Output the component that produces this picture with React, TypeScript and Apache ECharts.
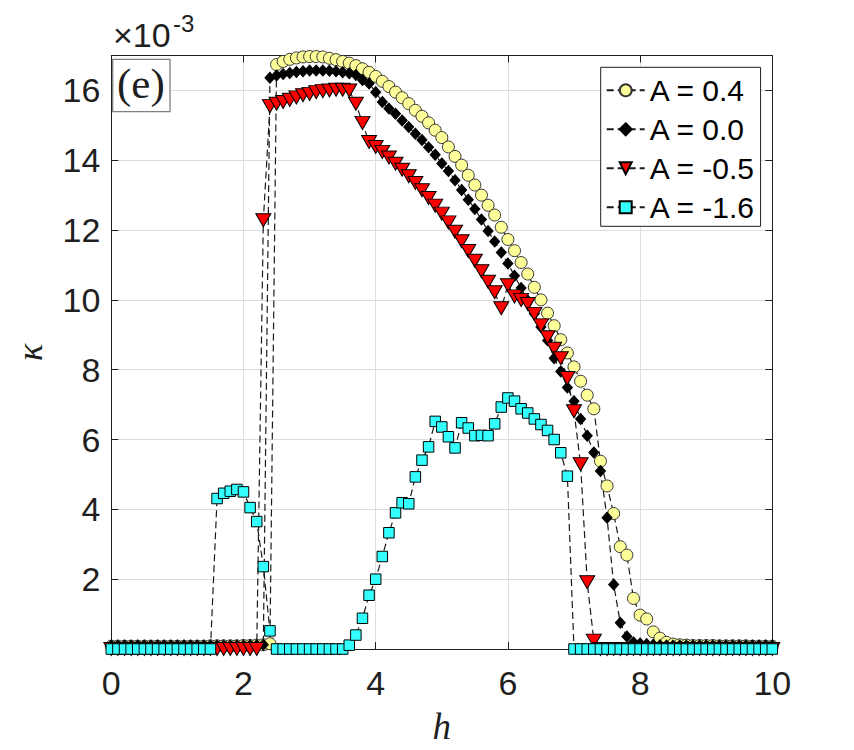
import React, { useEffect, useRef } from 'react';
import * as echarts from 'echarts';

// sampling grid of h (0 .. 10, step 0.1)
const H: number[] = Array.from({ length: 101 }, (_, i) => i / 10);

// kappa (x 10^-3) for A = 0.4
const A04: number[] = [
  0.08, 0.08, 0.08, 0.08, 0.08, 0.08, 0.08, 0.08, 0.08, 0.08,
  0.08, 0.08, 0.08, 0.08, 0.08, 0.09, 0.09, 0.09, 0.09, 0.09,
  0.10, 0.10, 0.11, 0.12, 0.15, 16.74, 16.83, 16.89, 16.93, 16.96,
  16.97, 16.97, 16.96, 16.92, 16.88, 16.83, 16.78, 16.71, 16.62, 16.52,
  16.40, 16.26, 16.11, 15.95, 15.79, 15.62, 15.43, 15.26, 15.07, 14.86,
  14.65, 14.38, 14.11, 13.86, 13.57, 13.29, 13.00, 12.71, 12.43, 12.08,
  11.73, 11.41, 11.07, 10.74, 10.36, 10.00, 9.62, 9.26, 8.86, 8.48,
  8.08, 7.67, 7.27, 6.88, 5.38, 4.67, 3.88, 2.93, 2.69, 1.45,
  0.97, 0.86, 0.49, 0.31, 0.19, 0.14, 0.12, 0.11, 0.10, 0.10,
  0.10, 0.10, 0.09, 0.09, 0.09, 0.09, 0.09, 0.08, 0.08, 0.08,
  0.08,
];

// kappa (x 10^-3) for A = 0.0
const A00: number[] = [
  0.10, 0.10, 0.10, 0.10, 0.10, 0.10, 0.10, 0.10, 0.10, 0.10,
  0.10, 0.10, 0.10, 0.10, 0.10, 0.10, 0.10, 0.10, 0.10, 0.10,
  0.10, 0.11, 0.11, 0.12, 16.36, 16.43, 16.47, 16.50, 16.53, 16.55,
  16.57, 16.57, 16.57, 16.56, 16.55, 16.52, 16.49, 16.44, 16.30, 16.20,
  15.95, 15.67, 15.48, 15.33, 15.14, 14.95, 14.76, 14.58, 14.37, 14.16,
  13.91, 13.69, 13.43, 13.15, 12.87, 12.60, 12.30, 11.97, 11.67, 11.36,
  11.04, 10.69, 10.34, 9.98, 9.60, 9.22, 8.84, 8.33, 7.95, 7.49,
  7.10, 6.59, 6.11, 5.63, 5.10, 3.76, 1.85, 0.75, 0.36, 0.19,
  0.16, 0.14, 0.12, 0.11, 0.10, 0.10, 0.10, 0.10, 0.10, 0.10,
  0.10, 0.10, 0.10, 0.10, 0.10, 0.10, 0.10, 0.10, 0.10, 0.10,
  0.10,
];

// kappa (x 10^-3) for A = -0.5
const AM05: number[] = [
  0, 0, 0, 0, 0, 0, 0, 0, 0, 0,
  0, 0, 0, 0, 0, 0, 0, 0, 0, 0,
  0, 0, 0, 12.28, 15.55, 15.62, 15.67, 15.73, 15.80, 15.86,
  15.90, 15.95, 15.98, 16.00, 16.02, 16.02, 16.00, 15.62, 15.07, 14.52,
  14.38, 14.24, 14.08, 13.90, 13.73, 13.54, 13.35, 13.14, 12.92, 12.70,
  12.47, 12.22, 11.95, 11.68, 11.40, 11.12, 10.82, 10.52, 10.22, 9.76,
  10.42, 10.10, 10.00, 9.88, 9.60, 9.27, 8.93, 8.60, 8.33, 7.76,
  6.81, 5.29, 1.91, 0.24, 0, 0, 0, 0, 0, 0,
  0, 0, 0, 0, 0, 0, 0, 0, 0, 0,
  0, 0, 0, 0, 0, 0, 0, 0, 0, 0,
  0,
];

// kappa (x 10^-3) for A = -1.6
const AM16: number[] = [
  0, 0, 0, 0, 0, 0, 0, 0, 0, 0,
  0, 0, 0, 0, 0, 0, 4.31, 4.46, 4.52, 4.57,
  4.50, 4.05, 3.65, 2.36, 0.52, 0, 0, 0, 0, 0,
  0, 0, 0, 0, 0, 0, 0.11, 0.40, 0.88, 1.54,
  2.00, 2.65, 3.33, 3.90, 4.19, 4.16, 4.93, 5.41, 5.79, 6.52,
  6.36, 6.08, 5.76, 6.48, 6.33, 6.11, 6.12, 6.11, 6.45, 6.93,
  7.19, 7.10, 6.88, 6.76, 6.59, 6.43, 6.26, 6.00, 5.62, 4.95,
  0, 0, 0, 0, 0, 0, 0, 0, 0, 0,
  0, 0, 0, 0, 0, 0, 0, 0, 0, 0,
  0, 0, 0, 0, 0, 0, 0, 0, 0, 0,
  0,
];

const SERIES_NAMES: string[] = ['A = 0.4', 'A = 0.0', 'A = -0.5', 'A = -1.6'];
const X_MIN = 0;
const X_MAX = 10;
const X_STEP = 2;
const Y_MIN = 0;
const Y_MAX = 17;
const Y_STEP = 2;

const TEXT = '#1f1f1f';
const GRID = '#dedede';
const SANS = 'Liberation Sans';
const SERIF = 'Liberation Serif';

function makeSeries(name: string, vals: number[], symbol: string, size: any, fill: string, border: string) {
  return {
    name,
    type: 'line',
    data: H.map((h, i) => [h, vals[i]]),
    symbol,
    symbolSize: size,
    showSymbol: true,
    showAllSymbol: true,
    clip: false,
    lineStyle: { color: '#1a1a1a', width: 1.2, type: [7, 4] },
    itemStyle: { color: fill, borderColor: border, borderWidth: 1 },
    emphasis: { disabled: true },
  };
}

export default function App() {
  const ref = useRef<HTMLDivElement>(null);

  useEffect(() => {
    if (!ref.current) return;
    const chart = echarts.init(ref.current, undefined, { renderer: 'svg' });
    const axisLine = { show: true, onZero: false, lineStyle: { color: TEXT, width: 1 } };
    const tick = { show: true, inside: true, length: 7, lineStyle: { color: TEXT, width: 1 } };
    chart.setOption({
      animation: false,
      backgroundColor: '#ffffff',
      title: [
        {
          text: '×10', left: 113, top: 18, padding: 0, z: 60,
          textStyle: { color: TEXT, fontSize: 34, fontWeight: 'normal', fontFamily: SANS, lineHeight: 34 },
        },
        {
          text: '-3', left: 173, top: 11, padding: 0, z: 60,
          textStyle: { color: TEXT, fontSize: 24, fontWeight: 'normal', fontFamily: SANS, lineHeight: 24 },
        },
        {
          text: '(e)', left: 117, top: 62, padding: 0, z: 60,
          textStyle: { color: TEXT, fontSize: 43, fontWeight: 'normal', fontFamily: SERIF, lineHeight: 43 },
        },
      ],
      grid: { left: 111.3, top: 55.5, right: 81.7, bottom: 100, containLabel: false },
      legend: {
        data: SERIES_NAMES,
        orient: 'vertical',
        left: 600.7,
        top: 67.3,
        padding: [8, 5, 4, 5],
        itemGap: 9,
        itemWidth: 38,
        itemHeight: 15,
        backgroundColor: '#ffffff',
        borderColor: TEXT,
        borderWidth: 1,
        borderRadius: 0,
        textStyle: { color: '#000', fontSize: 30, fontFamily: SANS, lineHeight: 30 },
        selectedMode: false,
      },
      xAxis: [
        {
          type: 'value', min: X_MIN, max: X_MAX, interval: X_STEP, position: 'bottom',
          axisLine, axisTick: tick,
          axisLabel: { color: TEXT, fontSize: 34, fontFamily: SANS, margin: 17, showMaxLabel: true, showMinLabel: true },
          splitLine: { show: true, lineStyle: { color: GRID, width: 1 } },
          name: 'h', nameLocation: 'middle', nameGap: 59,
          nameTextStyle: { color: TEXT, fontSize: 37, fontFamily: SERIF, fontStyle: 'italic' },
        },
        {
          type: 'value', min: X_MIN, max: X_MAX, interval: X_STEP, position: 'top',
          axisLine, axisTick: tick, axisLabel: { show: false }, splitLine: { show: false },
        },
      ],
      yAxis: [
        {
          type: 'value', min: Y_MIN, max: Y_MAX, interval: Y_STEP, position: 'left',
          axisLine, axisTick: tick,
          axisLabel: {
            color: TEXT, fontSize: 34, fontFamily: SANS, margin: 11,
            formatter: (v: number) => (v > 0 && v < Y_MAX && v % 2 === 0 ? String(v) : ''),
          },
          splitLine: { show: true, lineStyle: { color: GRID, width: 1 } },
          name: 'κ', nameLocation: 'middle', nameGap: 63,
          nameTextStyle: { color: TEXT, fontSize: 36, fontFamily: SERIF, fontStyle: 'italic' },
        },
        {
          type: 'value', min: Y_MIN, max: Y_MAX, interval: Y_STEP, position: 'right',
          axisLine, axisTick: tick, axisLabel: { show: false }, splitLine: { show: false },
        },
      ],
      series: [
        makeSeries(SERIES_NAMES[0], A04, 'circle', 12, '#ffff99', '#333333'),
        makeSeries(SERIES_NAMES[1], A00, 'diamond', [10, 11], '#000000', '#000000'),
        makeSeries(SERIES_NAMES[2], AM05, 'path://M0 0L12 0L6 11Z', [15, 13], '#ff0000', '#000000'),
        makeSeries(SERIES_NAMES[3], AM16, 'rect', 10.5, '#33ffff', '#000000'),
      ],
      graphic: [
        {
          type: 'rect', z: 50,
          shape: { x: 112.7, y: 59.3, width: 57.3, height: 52.4 },
          style: { fill: '#ffffff', stroke: '#7f7f7f', lineWidth: 1.3 },
        },
      ],
    });
    return () => chart.dispose();
  }, []);

  return (
    <div
      ref={ref}
      style={{ position: 'absolute', left: 0, top: 0, width: 854, height: 750, background: '#fff' }}
    />
  );
}
